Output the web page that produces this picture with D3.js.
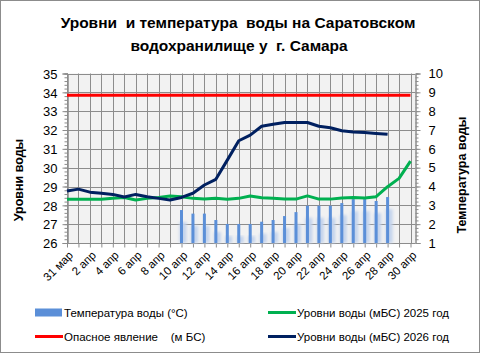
<!DOCTYPE html>
<html>
<head>
<meta charset="utf-8">
<script src="https://cdn.jsdelivr.net/npm/d3@7"></script>
<style>
  body { margin: 0; background: #fff; }
  svg text { font-family: "Liberation Sans", Arial, sans-serif; white-space: pre; }
</style>
</head>
<body>
<div id="container"></div>
<script>
// DATA ###############################
const dates = ["31 мар", "1 апр", "2 апр", "3 апр", "4 апр", "5 апр", "6 апр", "7 апр", "8 апр", "9 апр",
  "10 апр", "11 апр", "12 апр", "13 апр", "14 апр", "15 апр", "16 апр", "17 апр", "18 апр", "19 апр",
  "20 апр", "21 апр", "22 апр", "23 апр", "24 апр", "25 апр", "26 апр", "27 апр", "28 апр", "29 апр", "30 апр"];

// water temperature, °C (right axis)
const temperature = [null, null, null, null, null, null, null, null, null, null,
  2.75, 2.56, 2.56, 2.22, 2.01, 2.01, 2.01, 2.13, 2.22, 2.43,
  2.64, 2.98, 2.98, 2.98, 3.12, 3.33, 3.33, 3.23, 3.44, null, null];

// dangerous level, m BS
const danger = [33.85, 33.85, 33.85, 33.85, 33.85, 33.85, 33.85, 33.85, 33.85, 33.85,
  33.85, 33.85, 33.85, 33.85, 33.85, 33.85, 33.85, 33.85, 33.85, 33.85,
  33.85, 33.85, 33.85, 33.85, 33.85, 33.85, 33.85, 33.85, 33.85, 33.85, 33.85];

const level2025 = [28.32, 28.32, 28.32, 28.32, 28.37, 28.42, 28.28, 28.37, 28.42, 28.49,
  28.46, 28.37, 28.33, 28.37, 28.32, 28.37, 28.5, 28.4, 28.37, 28.33,
  28.33, 28.5, 28.33, 28.33, 28.39, 28.42, 28.39, 28.46, 28.99, 29.43, 30.35];

const level2026 = [28.76, 28.86, 28.7, 28.64, 28.58, 28.44, 28.58, 28.46, 28.37, 28.28,
  28.42, 28.64, 29.08, 29.38, 30.4, 31.43, 31.73, 32.2, 32.31, 32.4,
  32.4, 32.4, 32.2, 32.12, 31.96, 31.9, 31.87, 31.82, 31.77, null, null];

const leftTicks = [26, 27, 28, 29, 30, 31, 32, 33, 34, 35];
const rightTicks = [1, 2, 3, 4, 5, 6, 7, 8, 9, 10];

// CONSTANTS ###############################
const width = 481, height = 354;
const plot = { left: 67, right: 415, top: 73.5, bottom: 243 };

const svg = d3.select("#container").append("svg")
  .attr("width", width).attr("height", height);

// chart border
svg.append("rect")
  .attr("x", 0.5).attr("y", 0.5)
  .attr("width", width - 2).attr("height", height - 2)
  .attr("fill", "#fff").attr("stroke", "#8c8c8c");

// SCALES ----------------------------------
const xScale = d3.scalePoint()
  .domain(d3.range(dates.length))
  .range([plot.left, 410.5]);

const yLeft = d3.scaleLinear().domain([26, 35]).range([plot.bottom, plot.top]);
const yRight = d3.scaleLinear().domain([1, 10]).range([plot.bottom, plot.top]);

// PLOT AREA -------------------------------
svg.append("rect")
  .attr("x", plot.left).attr("y", plot.top)
  .attr("width", plot.right - plot.left).attr("height", plot.bottom - plot.top)
  .attr("fill", "#f2f2f2");

// grid
svg.append("g").selectAll("line")
  .data(leftTicks)
  .join("line")
  .attr("x1", plot.left).attr("x2", plot.right)
  .attr("y1", d => Math.round(yLeft(d)) + 0.5).attr("y2", d => Math.round(yLeft(d)) + 0.5)
  .attr("stroke", "#8c8c8c");

svg.append("g").selectAll("line")
  .data(d3.range(dates.length))
  .join("line")
  .attr("x1", d => Math.round(xScale(d)) + 0.5).attr("x2", d => Math.round(xScale(d)) + 0.5)
  .attr("y1", plot.top).attr("y2", plot.bottom)
  .attr("stroke", "#8c8c8c");

// AXES ------------------------------------
const leftAxis = svg.append("g")
  .attr("transform", `translate(${plot.left + 0.5},0)`)
  .call(d3.axisLeft(yLeft).tickValues(d3.range(26, 35.01, 0.2)).tickSize(3).tickFormat(""));
leftAxis.append("g").call(d3.axisLeft(yLeft).tickValues(leftTicks).tickSize(5).tickPadding(5));

const rightAxis = svg.append("g")
  .attr("transform", `translate(${plot.right + 0.5},0)`)
  .call(d3.axisRight(yRight).tickValues(d3.range(1, 10.01, 0.2)).tickSize(3).tickFormat(""));
rightAxis.append("g").call(d3.axisRight(yRight).tickValues(rightTicks).tickSize(5).tickPadding(8));

const xAxis = svg.append("g")
  .attr("transform", `translate(0,${plot.bottom + 0.5})`)
  .call(d3.axisBottom(xScale).tickSize(4).tickFormat(""));
xAxis.select(".domain").attr("d", `M${plot.left},0H${plot.right}`);

svg.selectAll(".domain, .tick line").attr("stroke", "#8c8c8c");
svg.selectAll(".tick text")
  .attr("fill", "#000")
  .style("font-size", "13px")
  .style("font-family", "Liberation Sans, Arial, sans-serif");
leftAxis.selectAll(".tick text").attr("dy", "0.36em");

// x labels, every second day
svg.append("g").selectAll("text")
  .data(d3.range(0, dates.length, 2))
  .join("text")
  .attr("transform", d => `translate(${xScale(d) + 4},${plot.bottom + 10}) rotate(-45)`)
  .attr("text-anchor", "end")
  .attr("dy", "0.35em")
  .style("font-size", "11.5px")
  .text(d => dates[d]);

// BARS ------------------------------------
const defs = svg.append("defs");
defs.append("filter").attr("id", "soft")
  .attr("x", "-100%").attr("width", "300%")
  .append("feGaussianBlur").attr("stdDeviation", 1.4);

const barData = temperature.map((v, i) => ({ i, v })).filter(d => d.v != null);

svg.append("g").selectAll("rect")
  .data(barData)
  .join("rect")
  .attr("x", d => xScale(d.i) - 2)
  .attr("y", d => yRight(d.v) + 12)
  .attr("width", 7)
  .attr("height", d => plot.bottom - yRight(d.v) - 12)
  .attr("fill", "#c3d3ec")
  .attr("filter", "url(#soft)");

svg.append("g").selectAll("rect")
  .data(barData)
  .join("rect")
  .attr("class", "bar")
  .attr("x", d => xScale(d.i) - 1.5)
  .attr("y", d => yRight(d.v))
  .attr("width", 3)
  .attr("height", d => plot.bottom - yRight(d.v))
  .attr("fill", "#5b8fd8");

// LINES -----------------------------------
const line = d3.line()
  .defined(d => d != null)
  .x((d, i) => xScale(i))
  .y(d => yLeft(d));

const series = [
  { values: danger, color: "#ff0000", w: 3 },
  { values: level2025, color: "#00b050", w: 3 },
  { values: level2026, color: "#002060", w: 3 }
];

svg.append("g").selectAll("path")
  .data(series)
  .join("path")
  .attr("d", d => line(d.values))
  .attr("fill", "none")
  .attr("stroke", d => d.color)
  .attr("stroke-width", d => d.w)
  .attr("stroke-linejoin", "round");

// TITLES ----------------------------------
svg.append("text")
  .attr("x", 238).attr("y", 28)
  .attr("text-anchor", "middle")
  .style("font-size", "15.5px").style("font-weight", "bold")
  .text("Уровни  и температура  воды на Саратовском");
svg.append("text")
  .attr("x", 239).attr("y", 51)
  .attr("text-anchor", "middle")
  .style("font-size", "15.5px").style("font-weight", "bold")
  .text("водохранилище у  г. Самара");

svg.append("text")
  .attr("transform", "translate(23,180) rotate(-90)")
  .attr("text-anchor", "middle")
  .style("font-size", "12.5px").style("font-weight", "bold")
  .text("Уровни воды");
svg.append("text")
  .attr("transform", "translate(466,175) rotate(-90)")
  .attr("text-anchor", "middle")
  .style("font-size", "12.5px").style("font-weight", "bold")
  .text("Температура воды");

// LEGEND ----------------------------------
const legendItems = [
  { label: "Температура воды (°С)", color: "#5b8fd8", type: "bar", x: 35, y: 312.5 },
  { label: "Уровни воды (мБС) 2025 год", color: "#00b050", type: "line", x: 268, y: 312.5 },
  { label: "Опасное явление    (м БС)", color: "#ff0000", type: "line", x: 35, y: 336.5 },
  { label: "Уровни воды (мБС) 2026 год", color: "#002060", type: "line", x: 268, y: 336.5 }
];

const legend = svg.append("g").selectAll("g")
  .data(legendItems)
  .join("g")
  .attr("transform", d => `translate(${d.x},${d.y})`);

legend.filter(d => d.type === "bar").append("rect")
  .attr("x", 0).attr("y", -4).attr("width", 27).attr("height", 8)
  .attr("fill", d => d.color);
legend.filter(d => d.type === "line").append("line")
  .attr("x1", 0).attr("x2", 28).attr("y1", 0).attr("y2", 0)
  .attr("stroke", d => d.color).attr("stroke-width", 3);
legend.append("text")
  .attr("x", 29).attr("dy", "0.35em")
  .style("font-size", "11.5px")
  .text(d => d.label);
</script>
</body>
</html>
